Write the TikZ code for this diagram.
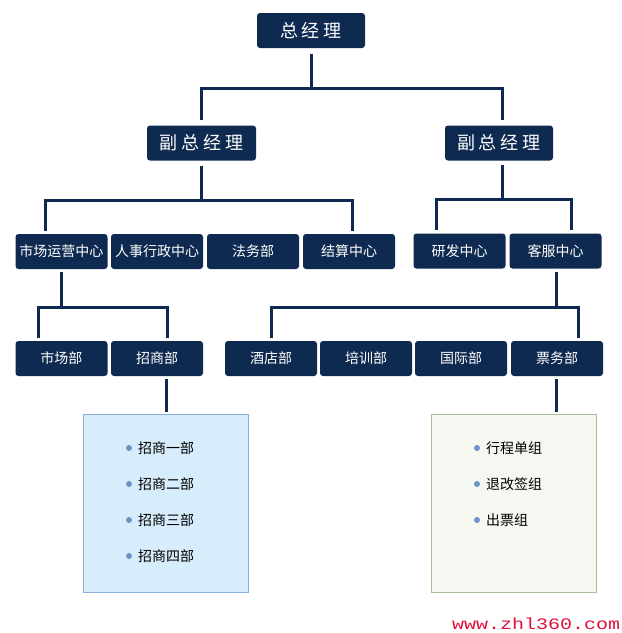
\documentclass[tikz,border=0pt]{standalone}
\usepackage{fontspec}
\setmainfont{Noto Sans CJK SC}
\newfontfamily\wmfont{Liberation Mono}
\usetikzlibrary{positioning}
\definecolor{navy}{HTML}{0F2A50}
\definecolor{bluefill}{HTML}{D8EDFB}
\definecolor{blueline}{HTML}{8AAEDC}
\definecolor{greenfill}{HTML}{F4F8F1}
\definecolor{greenline}{HTML}{A9BF98}
\definecolor{dotblue}{HTML}{6A93C6}
\definecolor{wmred}{HTML}{E0103C}
\tikzset{
  topbox/.style={fill=navy, rounded corners=3pt, text=white, font=\fontsize{18}{20}\selectfont, minimum width=108pt, minimum height=35pt, inner sep=0pt},
  unitbox/.style={fill=navy, rounded corners=3pt, text=white, font=\fontsize{14}{16}\selectfont, minimum width=92pt, minimum height=35pt, inner sep=0pt},
  conn/.style={draw=navy, line width=3pt, line join=miter},
  listbox/.style={minimum width=165pt, minimum height=178pt, inner sep=0pt, line width=1pt},
  item/.style={anchor=west, font=\fontsize{14}{16}\selectfont, text=black, inner sep=0pt},
  dot/.style={circle, fill=dotblue, minimum size=6pt, inner sep=0pt}
}
\newcommand{\gapch}{\hspace{4pt}}
\begin{document}
\begin{tikzpicture}[x=1pt,y=-1pt]
\useasboundingbox (0,0) rectangle (622,633);
\fill[white] (0,0) rectangle (622,633);
% level 1 and 2
\node[topbox] (gm) at (311,30.5) {总\gapch 经\gapch 理};
\node[topbox, minimum width=109pt] (vp1) at (201.5,143) {副\gapch 总\gapch 经\gapch 理};
\node[topbox] (vp2) at (499,143) {副\gapch 总\gapch 经\gapch 理};
% level 3
\node[unitbox] (mc) at (61.5,251.5) {市场运营中心};
\node[unitbox] (hr) at (157,251.5) {人事行政中心};
\node[unitbox] (lw) at (253,251.5) {法务部};
\node[unitbox] (js) at (349,251.5) {结算中心};
\node[unitbox] (rd) at (459.5,251) {研发中心};
\node[unitbox] (cs) at (555.5,251) {客服中心};
% level 4
\node[unitbox] (sc) at (61.5,358.5) {市场部};
\node[unitbox] (zs) at (157,358.5) {招商部};
\node[unitbox] (jd) at (271,358.5) {酒店部};
\node[unitbox] (px) at (366,358.5) {培训部};
\node[unitbox] (gj) at (461,358.5) {国际部};
\node[unitbox] (pw) at (557,358.5) {票务部};
% list boxes
\node[listbox, draw=blueline, fill=bluefill] (lb) at (165.5,503) {};
\node[listbox, draw=greenline, fill=greenfill] (rb) at (513.5,503) {};
% bar coordinates
\coordinate (b0) at (311,88);
\coordinate (b1) at (201.5,200);
\coordinate (b2) at (502.5,199);
\coordinate (b3) at (61.5,307);
\coordinate (b4) at (556,307);
% connectors
\draw[conn, shorten <=6pt] (gm.south) -- (b0);
\draw[conn, shorten <=5pt, shorten >=5pt] (vp1.north) |- (b0) -| ([xshift=3.5pt]vp2.north);
\draw[conn, shorten <=5pt] (vp1.south) -- (b1);
\draw[conn, shorten <=3pt, shorten >=3pt] ([xshift=-16.5pt]mc.north) |- (b1) -| ([xshift=3pt]js.north);
\draw[conn, shorten <=4pt] ([xshift=3.5pt]vp2.south) -- (b2);
\draw[conn, shorten <=3pt, shorten >=3pt] ([xshift=-23.5pt]rd.north) |- (b2) -| ([xshift=15.5pt]cs.north);
\draw[conn, shorten <=3pt] (mc.south) -- (b3);
\draw[conn, shorten <=3pt, shorten >=3pt] ([xshift=-23.5pt]sc.north) |- (b3) -| ([xshift=10pt]zs.north);
\draw[conn, shorten <=3pt] ([xshift=0.5pt]cs.south) -- (b4);
\draw[conn, shorten <=3pt, shorten >=3pt] (jd.north) |- (b4) -| ([xshift=21pt]pw.north);
\draw[conn, shorten <=3pt, shorten >=2pt] ([xshift=9pt]zs.south) -- ([xshift=0.5pt]lb.north);
\draw[conn, shorten <=3pt, shorten >=2pt] ([xshift=-1pt]pw.south) -- ([xshift=42.5pt]rb.north);
% list items
\node[dot] (d1) at (129,448) {};
\node[item] (t1) at (138,448) {招商一部};
\node[dot] (d2) at (129,484) {};
\node[item] (t2) at (138,484) {招商二部};
\node[dot] (d3) at (129,520) {};
\node[item] (t3) at (138,520) {招商三部};
\node[dot] (d4) at (129,556) {};
\node[item] (t4) at (138,556) {招商四部};
\node[dot] (e1) at (477,448) {};
\node[item] (u1) at (486,448) {行程单组};
\node[dot] (e2) at (477,484) {};
\node[item] (u2) at (486,484) {退改签组};
\node[dot] (e3) at (477,520) {};
\node[item] (u3) at (486,520) {出票组};
% watermark
\node[anchor=base west, inner sep=0pt, text=wmred] (wm) at (452,629) {\scalebox{1.25}[1]{\wmfont\fontsize{16}{18}\selectfont www.zhl360.com}};
\end{tikzpicture}
\end{document}
